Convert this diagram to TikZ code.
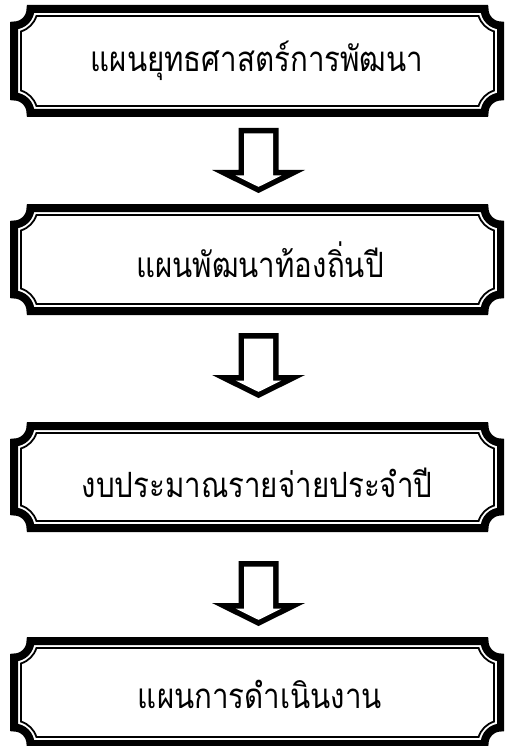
\documentclass[tikz,border=0pt]{standalone}
\usepackage{fontspec}
\newfontfamily\thaifont[Script=Thai]{Loma}
\newcommand\plqr{16.5}
\newcommand\plqd{7}
\newcommand\plqbox[4]{%
  \pgfmathsetmacro\plqR{\plqr+\plqd}%
  \pgfmathsetmacro\plqT{asin(\plqd/\plqR)}%
  \pgfmathsetmacro\plqA{\plqR*cos(\plqT)}%
  \pgfmathsetmacro\plqM{(#1+#2)/2}%
  \draw[thickframe] (\plqM,#3) -- (#2-\plqr,#3)
     arc[start angle=180,end angle=90,radius=\plqr] -- (#2,#4-\plqr)
     arc[start angle=270,end angle=180,radius=\plqr] -- (#1+\plqr,#4)
     arc[start angle=360,end angle=270,radius=\plqr] -- (#1,#3+\plqr)
     arc[start angle=90,end angle=0,radius=\plqr] -- cycle;
  \draw[thinframe] (\plqM,#3+\plqd) -- (#2-\plqA,#3+\plqd)
     arc[start angle=180-\plqT,end angle=90+\plqT,radius=\plqR] -- (#2-\plqd,#4-\plqA)
     arc[start angle=270-\plqT,end angle=180+\plqT,radius=\plqR] -- (#1+\plqA,#4-\plqd)
     arc[start angle=360-\plqT,end angle=270+\plqT,radius=\plqR] -- (#1+\plqd,#3+\plqA)
     arc[start angle=90-\plqT,end angle=\plqT,radius=\plqR] -- cycle;
}
\newcommand\tallthai[1]{\scalebox{1}[1.18]{#1}}
\begin{document}
\begin{tikzpicture}[x=1pt,y=-1pt,
  thickframe/.style={draw=black,line width=8pt,line join=miter,miter limit=10},
  thinframe/.style={draw=black,line width=1.8pt,line join=miter},
  lbl/.style={anchor=base,inner sep=0pt,font=\thaifont\fontsize{29.5}{36}\selectfont},
  blockarrow/.pic={
    \fill[black] (-20,0) -- (20,0) -- (20,42) -- (46.5,42) -- (0,65) -- (-46.5,42) -- (-20,42) -- cycle;
    \fill[white] (-14.5,5.5) -- (14.5,5.5) -- (14.5,47.5) -- (22.97,47.5) -- (0,58.86) -- (-22.97,47.5) -- (-14.5,47.5) -- cycle;
  }]
\useasboundingbox (0,0) rectangle (504,746);
\fill[white] (0,0) rectangle (504,746);
\clip (0,0) rectangle (504,746);
% frames
\plqbox{14}{501}{9}{113}
\plqbox{14}{501}{208}{311}
\plqbox{14}{501}{426}{528}
\plqbox{14}{501}{641}{744}
% labels
\node[lbl] (b1) at (257,72) {\tallthai{แผนยุทธศาสตร์การพัฒนา}};
\node[lbl] (b2) at (260,277) {\tallthai{แผนพัฒนาท้องถิ่นปี}};
\node[lbl] (b3) at (257,497) {\tallthai{งบประมาณรายจ่ายประจำปี}};
\node[lbl] (b4) at (260,708) {\tallthai{แผนการดำเนินงาน}};
% arrows
\coordinate (a1) at (258.5,128);
\coordinate (a2) at (258.5,333);
\coordinate (a3) at (258.5,561);
\pic at (a1) {blockarrow};
\pic at (a2) {blockarrow};
\pic at (a3) {blockarrow};
\end{tikzpicture}
\end{document}
